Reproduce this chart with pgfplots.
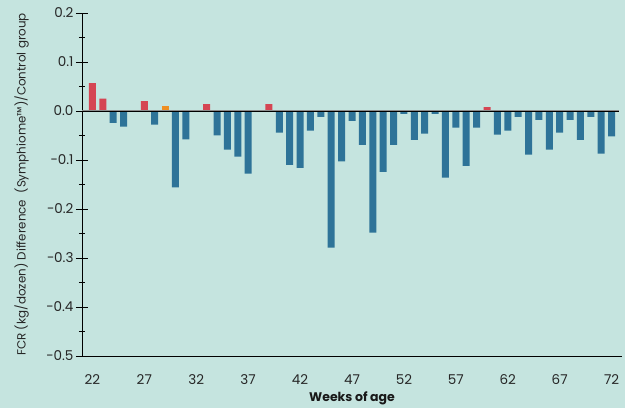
\documentclass[border=0pt]{standalone}
\usepackage{fontspec}
\setmainfont{Poppins}
\usepackage{pgfplots}
\pgfplotsset{compat=1.18}
\usetikzlibrary{backgrounds}
\definecolor{bgc}{RGB}{197,228,223}
\definecolor{barblue}{RGB}{46,115,152}
\definecolor{barred}{RGB}{213,69,83}
\definecolor{barorange}{RGB}{238,143,35}
\begin{document}
\begin{tikzpicture}
\begin{axis}[
  scale only axis,
  width=540pt, height=343pt,
  xmin=21, xmax=73,
  ymin=-0.5, ymax=0.2,
  axis x line*=bottom, axis y line*=left,
  axis line style={black, line width=0.9pt},
  /pgf/number format/assume math mode=true,
  xtick={22,27,...,72},
  xtick style={draw=none},
  ytick={-0.5,-0.4,...,0.2},
  yticklabels={−0.5,−0.4,−0.3,−0.2,−0.1,0.0,0.1,0.2},
  minor ytick={-0.45,-0.35,...,0.15},
  tick align=center,
  major tick length=12pt,
  minor tick length=6pt,
  every tick/.style={black, line width=0.9pt},
  ticklabel style={font=\fontsize{13.5}{15}\selectfont, text=black!85},
  xticklabel style={yshift=-3pt},
  yticklabel style={xshift=1pt},
  xlabel={\bfseries Weeks of age},
  ylabel={FCR (kg/dozen) Difference\ \ (Symphiome\texttrademark)/Control group},
  xlabel style={at={(axis description cs:0.5,0)}, anchor=center, yshift=-42pt, font=\fontsize{12.5}{14}\selectfont, text=black!90},
  ylabel style={at={(axis description cs:-0.112,0.5)}, anchor=center, font=\fontsize{11.9}{13}\selectfont, text=black!85},
  ybar, bar width=7pt, bar shift=0pt,
  clip=false,
]
\addplot[fill=barblue, draw=none] coordinates {
(24,-0.024) (25,-0.032) (28,-0.028) (30,-0.156) (31,-0.058) (34,-0.050)
(35,-0.079) (36,-0.093) (37,-0.128) (40,-0.044) (41,-0.110) (42,-0.116)
(43,-0.040) (44,-0.012) (45,-0.279) (46,-0.103) (47,-0.020) (48,-0.069)
(49,-0.248) (50,-0.124) (51,-0.069) (52,-0.006) (53,-0.059) (54,-0.046)
(55,-0.006) (56,-0.136) (57,-0.034) (58,-0.112) (59,-0.034) (61,-0.048)
(62,-0.040) (63,-0.012) (64,-0.089) (65,-0.018) (66,-0.079) (67,-0.044)
(68,-0.018) (69,-0.059) (70,-0.012) (71,-0.087) (72,-0.052)
};
\addplot[fill=barred, draw=none] coordinates {
(22,0.057) (23,0.025) (27,0.020) (33,0.014) (39,0.014) (60,0.008)
};
\addplot[fill=barorange, draw=none] coordinates {
(29,0.010)
};
\draw[black!45, line width=2.5pt] (axis cs:21,0.0004) -- (axis cs:72.7,0.0004);
\draw[black, line width=0.9pt] (axis cs:21,0) -- (axis cs:72.7,0);
\end{axis}
\begin{scope}[on background layer]
\fill[bgc] ([xshift=-82pt,yshift=-52pt]current axis.south west) rectangle ([xshift=3pt,yshift=13pt]current axis.north east);
\end{scope}
\end{tikzpicture}
\end{document}
